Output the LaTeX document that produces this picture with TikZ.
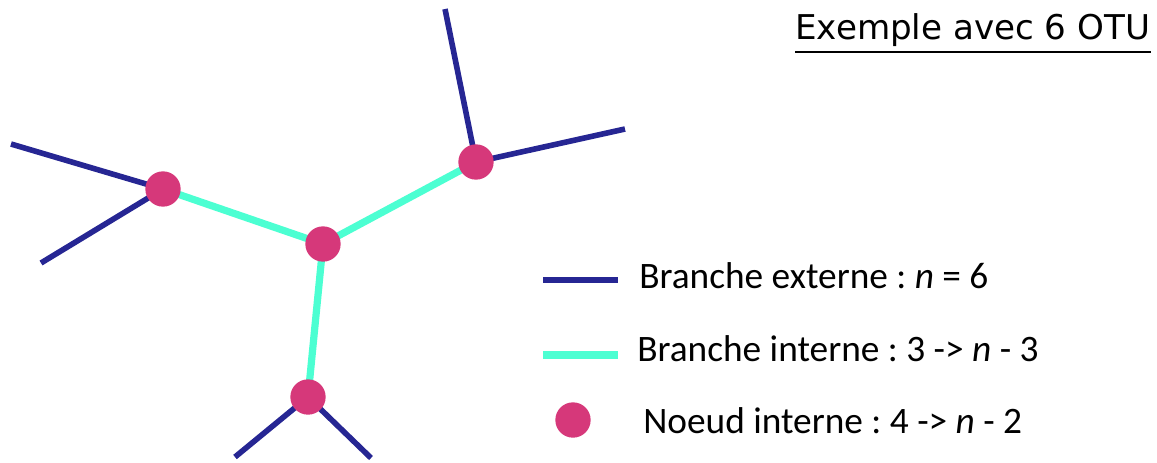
\documentclass[tikz,border=0pt]{standalone}
\usepackage{fontspec}
\setmainfont{Carlito}
\newfontfamily\titlefont{DejaVu Sans}
\usetikzlibrary{calc}
\frenchspacing
\definecolor{extblue}{RGB}{38,38,147}
\definecolor{intcyan}{RGB}{76,255,210}
\definecolor{nodepink}{RGB}{214,56,122}
\tikzset{
  extbranch/.style={draw=extblue, line width=4.2pt},
  intbranch/.style={draw=intcyan, line width=5.4pt},
  innode/.style={circle, fill=nodepink, minimum size=26.5pt, inner sep=0pt},
  legtext/.style={anchor=base west, inner sep=0pt, font=\fontsize{28}{31}\selectfont},
}
\begin{document}
\begin{tikzpicture}[x=0.75pt,y=-0.75pt]
\useasboundingbox (0,0) rectangle (1157,462);
% tree coordinates
\coordinate (A) at (163,189);
\coordinate (C) at (323,244);
\coordinate (B) at (476,162);
\coordinate (D) at (308,397);
\coordinate (a1) at (11,144);
\coordinate (a2) at (41,263);
\coordinate (b1) at (445,9);
\coordinate (b2) at (625,129);
\coordinate (d1) at (235,457);
\coordinate (d2) at (371,458);
% external branches
\draw[extbranch] (A) -- (a1);
\draw[extbranch] (A) -- (a2);
\draw[extbranch] (B) -- (b1);
\draw[extbranch] (B) -- (b2);
\draw[extbranch] (D) -- (d1);
\draw[extbranch] (D) -- (d2);
% internal branches
\draw[intbranch] (A) -- (C);
\draw[intbranch] (C) -- (B);
\draw[intbranch] (C) -- (D);
% internal nodes
\node[innode] (nA) at (A) {};
\node[innode] (nB) at (B) {};
\node[innode] (nC) at (C) {};
\node[innode] (nD) at (D) {};
% title
\node[anchor=base west, inner sep=0pt, font=\titlefont\fontsize{25.6}{28}\selectfont] (title) at (795,39) {Exemple avec 6 OTU};
\draw[line width=1.5pt] ($(title.base west)+(0,13)$) -- ($(title.base east)+(0,13)$);
% legend
\coordinate (l1a) at (543,280);
\coordinate (l1b) at (618,280);
\draw[extbranch] (l1a) -- (l1b);
\node[legtext] (t1) at (639,288) {Branche externe : \textit{n} = 6};
\coordinate (l2a) at (543,355);
\coordinate (l2b) at (618,355);
\draw[intbranch] (l2a) -- (l2b);
\node[legtext] (t2) at (637,361) {Branche interne : 3 -> \textit{n} - 3};
\node[innode] (l3) at (573,420) {};
\node[legtext] (t3) at (643,433) {Noeud interne : 4 -> \textit{n} - 2};
\end{tikzpicture}
\end{document}
